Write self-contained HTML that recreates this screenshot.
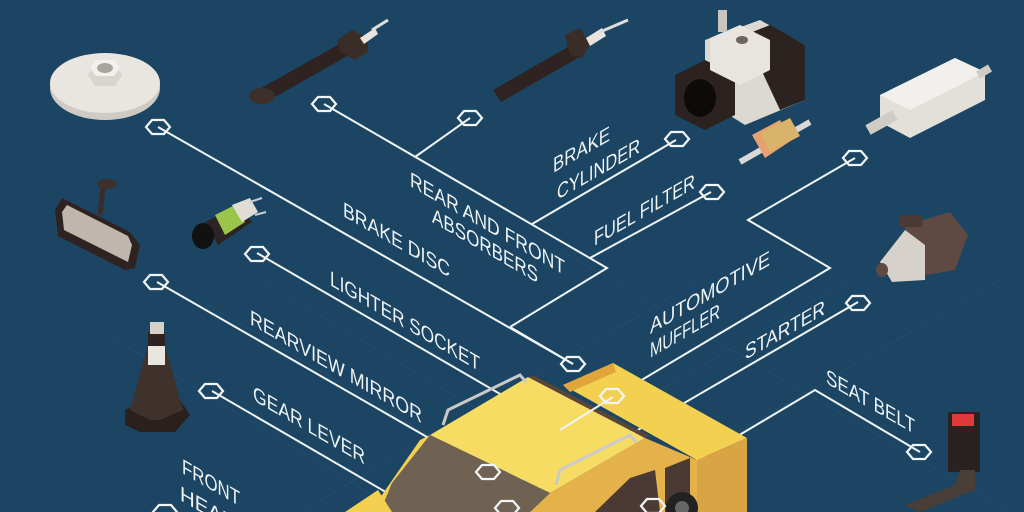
<!DOCTYPE html>
<html><head><meta charset="utf-8"><style>
html,body{margin:0;padding:0;background:#1b4562;width:1024px;height:512px;overflow:hidden;}
svg{display:block;overflow:hidden}
text{font-family:"Liberation Sans Narrow","Liberation Sans",sans-serif;fill:#eef3f6;font-size:21px;}
</style></head><body>
<svg width="1024" height="512" viewBox="0 0 1024 512" xmlns="http://www.w3.org/2000/svg">
<rect width="1024" height="512" fill="#1b4562"/>
<g stroke="#24506e" stroke-width="1" opacity="0.7">
<path d="M200 300 L560 512 M260 280 L650 512 M100 330 L400 512 M560 250 L1024 520 M300 512 L700 280 M450 512 L850 280 M600 512 L1000 280"/>
</g>
<g stroke="#f2f5f7" stroke-width="2" fill="none">
<path d="M158 127 L573 364"/>
<path d="M324 104 L607 268 L510 327"/>
<path d="M470 118 L415 157"/>
<path d="M676 140 L532 224"/>
<path d="M711 192 L590 258"/>
<path d="M855 158 L748 220 L830 268 L613 397"/>
<path d="M858 302 L507 506"/>
<path d="M920 452 L815 390 L610 512"/>
<path d="M257 253 L583 442 L467 512"/>
<path d="M157 282 L488 472"/>
<path d="M212 391 L420 512"/>
</g>
<g>
<polygon points="563,385 613,363 747,438 697,460" fill="#f3d04f"/>
<polygon points="563,385 613,363 616,372 570,392" fill="#e0a63a"/>
<polygon points="697,460 747,438 747,512 697,512" fill="#d9a444"/>
<polygon points="550,493 645,438 697,460 697,512 530,512" fill="#e4b14a"/>
<polygon points="595,512 630,478 655,470 660,512" fill="#4a3a33"/>
<polygon points="665,468 690,458 690,512 665,512" fill="#4a3a33"/>
<polygon points="430,435 528,377 645,438 550,493" fill="#f6dc63"/>
<polygon points="528,377 645,438 650,436 535,376" fill="#5a4636"/>
<polygon points="430,435 550,493 530,512 380,512 392,483" fill="#6f6252"/>
<polygon points="345,512 378,490 392,512" fill="#f3d04f"/>
<polygon points="380,512 392,483 430,435 420,440 375,505" fill="#f3d04f"/>
<circle cx="682" cy="508" r="16" fill="#222"/>
<circle cx="682" cy="508" r="7" fill="#666"/>
<path d="M443 425 L448 410 L520 375 L526 382" stroke="#c9c9c9" stroke-width="3" fill="none"/>
<path d="M556 485 L560 470 L630 435 L636 442" stroke="#c9c9c9" stroke-width="3" fill="none"/>
</g>
<g stroke="#f2f5f7" stroke-width="2" fill="none">
<path d="M510 327 L573 364"/>
<path d="M613 397 L560 430"/>
</g>
<g stroke="#f2f5f7" stroke-width="2.2" fill="none">
<g transform="translate(158,127)"><polygon id="h" points="-12,0 -6,-7 6,-7 12,0 6,7 -6,7"/></g>
<use href="#h" transform="translate(324,104)"/>
<use href="#h" transform="translate(470,118)"/>
<use href="#h" transform="translate(677,139)"/>
<use href="#h" transform="translate(712,192)"/>
<use href="#h" transform="translate(855,158)"/>
<use href="#h" transform="translate(858,303)"/>
<use href="#h" transform="translate(919,452)"/>
<use href="#h" transform="translate(257,254)"/>
<use href="#h" transform="translate(156,282)"/>
<use href="#h" transform="translate(211,391)"/>
<use href="#h" transform="translate(573,364)"/>
<use href="#h" transform="translate(612,396)"/>
<use href="#h" transform="translate(488,472)"/>
<use href="#h" transform="translate(507,508)"/>
<use href="#h" transform="translate(653,506)"/>
<use href="#h" transform="translate(165,512)"/>
</g>
<text transform="translate(343,216) skewY(30)" textLength="107" lengthAdjust="spacingAndGlyphs">BRAKE DISC</text>
<text transform="translate(410,186) skewY(30)" textLength="155" lengthAdjust="spacingAndGlyphs">REAR AND FRONT</text>
<text transform="translate(432,222) skewY(30)" textLength="106" lengthAdjust="spacingAndGlyphs">ABSORBERS</text>
<text transform="translate(330,285) skewY(30)" textLength="150" lengthAdjust="spacingAndGlyphs">LIGHTER SOCKET</text>
<text transform="translate(250,324) skewY(30)" textLength="172" lengthAdjust="spacingAndGlyphs">REARVIEW MIRROR</text>
<text transform="translate(253,400) skewY(30)" textLength="112" lengthAdjust="spacingAndGlyphs">GEAR LEVER</text>
<text transform="translate(182,473) skewY(30)" textLength="58" lengthAdjust="spacingAndGlyphs">FRONT</text>
<text transform="translate(180,500) skewY(30)" textLength="130" lengthAdjust="spacingAndGlyphs">HEADLIGHTS</text>
<text transform="translate(826,383) skewY(30)" textLength="89" lengthAdjust="spacingAndGlyphs">SEAT BELT</text>
<text transform="translate(553,173) skewY(-30)" textLength="57" lengthAdjust="spacingAndGlyphs">BRAKE</text>
<text transform="translate(557,200) skewY(-30)" textLength="83" lengthAdjust="spacingAndGlyphs">CYLINDER</text>
<text transform="translate(594,246) skewY(-30)" textLength="101" lengthAdjust="spacingAndGlyphs">FUEL FILTER</text>
<text transform="translate(650,334) skewY(-30)" textLength="120" lengthAdjust="spacingAndGlyphs">AUTOMOTIVE</text>
<text transform="translate(650,358) skewY(-30)" textLength="70" lengthAdjust="spacingAndGlyphs">MUFFLER</text>
<text transform="translate(745,360) skewY(-30)" textLength="80" lengthAdjust="spacingAndGlyphs">STARTER</text>
<g>
<ellipse cx="105" cy="88" rx="55" ry="32" fill="#cfcbc4"/>
<ellipse cx="105" cy="83" rx="55" ry="30" fill="#e9e6e1"/>
<polygon points="88,75 95,64 115,64 122,75 115,86 95,86" fill="#d9d5ce"/>
<polygon points="90,68 96,60 114,60 120,68 114,76 96,76" fill="#f3f1ee"/>
<ellipse cx="105" cy="68" rx="8" ry="5" fill="#a9a49c"/>
</g>
<g>
<polygon points="258,90 350,38 358,50 266,102" fill="#2e2320"/>
<ellipse cx="262" cy="96" rx="13" ry="8" fill="#3d302b"/>
<polygon points="337,40 352,30 368,38 368,52 355,60 340,52" fill="#3a2d28"/>
<polygon points="360,38 375,28 378,34 364,44" fill="#e8e3dc"/>
<line x1="372" y1="30" x2="388" y2="20" stroke="#ddd" stroke-width="3"/>
</g>
<g>
<polygon points="493,90 575,43 583,55 501,102" fill="#2e2320"/>
<polygon points="565,35 580,28 590,45 582,58 570,55" fill="#3a2d28"/>
<polygon points="586,38 602,28 606,36 590,46" fill="#e8e3dc"/>
<line x1="600" y1="32" x2="628" y2="20" stroke="#ddd" stroke-width="3"/>
</g>
<g>
<polygon points="705,40 760,20 805,45 805,100 745,125 705,100" fill="#dcd8d2"/>
<polygon points="745,35 770,25 805,45 805,100 780,110" fill="#2c2220"/>
<polygon points="675,75 705,60 735,75 735,115 705,130 675,115" fill="#2c2220"/>
<ellipse cx="700" cy="98" rx="16" ry="19" fill="#0d0a09"/>
<polygon points="710,38 740,25 770,40 770,70 740,85 710,70" fill="#e8e5e0"/>
<rect x="718" y="10" width="9" height="22" fill="#c8c4be"/>
<ellipse cx="742" cy="40" rx="6" ry="4" fill="#6d645c"/>
</g>
<g>
<line x1="740" y1="162" x2="810" y2="122" stroke="#d8d8d8" stroke-width="6"/>
<polygon points="752,135 780,120 792,140 765,158" fill="#e8a070"/>
<polygon points="760,133 790,118 800,136 770,152" fill="#d9b36a"/>
</g>
<g>
<polygon points="880,95 955,58 985,72 985,100 910,138 880,122" fill="#e3e0da"/>
<polygon points="880,95 955,58 985,72 910,110" fill="#f2f0ec"/>
<line x1="868" y1="130" x2="895" y2="115" stroke="#cfcbc5" stroke-width="11"/>
<line x1="978" y1="75" x2="990" y2="68" stroke="#cfcbc5" stroke-width="8"/>
</g>
<g>
<polygon points="905,225 950,212 968,235 955,270 910,278" fill="#5e4a42"/>
<polygon points="880,262 905,230 925,245 925,280 892,282" fill="#d6d2cb"/>
<ellipse cx="882" cy="270" rx="6" ry="7" fill="#5e4a42"/>
<rect x="900" y="215" width="22" height="12" fill="#4a3a33"/>
</g>
<g>
<polygon points="55,210 62,198 130,232 140,245 135,268 125,270 58,236" fill="#2e2320"/>
<polygon points="62,212 67,205 128,236 132,245 128,262 64,230" fill="#bfb7ad"/>
<line x1="100" y1="215" x2="103" y2="188" stroke="#3a2d28" stroke-width="5"/>
<ellipse cx="107" cy="184" rx="10" ry="5" fill="#3d302b"/>
</g>
<g>
<polygon points="205,222 240,205 252,222 218,245" fill="#2b2422"/>
<polygon points="215,215 235,205 245,222 225,235" fill="#9bc54a"/>
<polygon points="232,205 250,198 258,212 242,222" fill="#e0ddd7"/>
<ellipse cx="203" cy="236" rx="11" ry="13" fill="#111"/>
<line x1="250" y1="202" x2="262" y2="198" stroke="#ccc" stroke-width="2"/>
<line x1="255" y1="215" x2="266" y2="212" stroke="#ccc" stroke-width="2"/>
</g>
<g>
<polygon points="125,410 145,400 180,400 190,415 175,432 140,432 125,425" fill="#2a201d"/>
<polygon points="130,410 148,345 165,345 183,410 160,420 150,420" fill="#3f322d"/>
<rect x="148" y="345" width="17" height="20" fill="#e9e5df"/>
<rect x="148" y="332" width="17" height="14" fill="#2e2320"/>
<rect x="150" y="322" width="14" height="12" fill="#d5d1ca"/>
</g>
<g>
<rect x="948" y="412" width="32" height="60" fill="#2a2220"/>
<rect x="952" y="414" width="22" height="12" fill="#e0393a"/>
<polygon points="960,470 975,470 975,490 920,512 905,505 955,485" fill="#4a3f38"/>
</g>
</svg>
</body></html>
